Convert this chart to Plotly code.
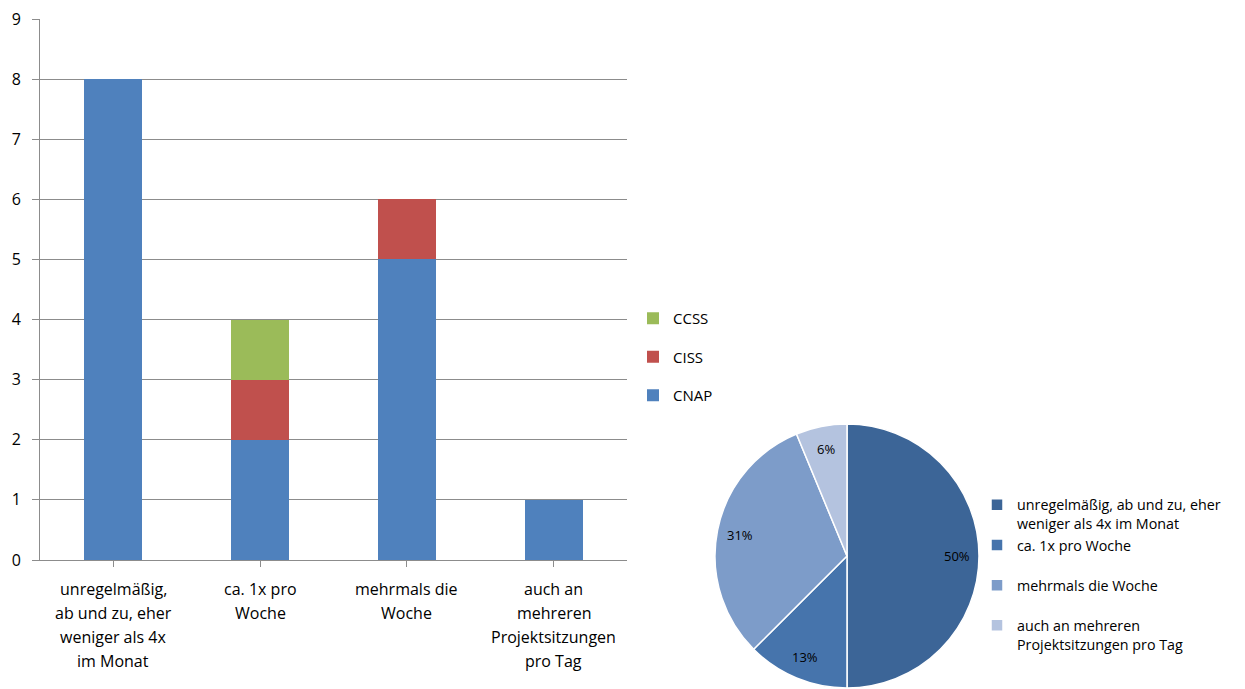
import math
import plotly.graph_objects as go

# Häufigkeit der Projektsitzungen, nach Gruppe gestapelt
categories = [
    "unregelmäßig,<br>ab und zu, eher<br>weniger als 4x<br>im Monat",
    "ca. 1x pro<br>Woche",
    "mehrmals die<br>Woche",
    "auch an<br>mehreren<br>Projektsitzungen<br>pro Tag",
]
cnap = [8, 2, 5, 1]
ciss = [0, 1, 1, 0]
ccss = [0, 1, 0, 0]

# Gesamtverteilung für das Kreisdiagramm
pie_labels = [
    "unregelmäßig, ab und zu, eher<br>weniger als 4x im Monat",
    "ca. 1x pro Woche<br> ",
    "mehrmals die Woche<br> ",
    "auch an mehreren<br>Projektsitzungen pro Tag",
]
pie_values = [8, 2, 5, 1]
pie_colors = ["#3C6597", "#4674AC", "#7D9CC9", "#B4C3DF"]

W, H = 1245, 689
FONT = "Open Sans"
GRAY = "#8C8C8C"

fig = go.Figure()

series = [("CNAP", cnap, "#4F81BD", 3), ("CISS", ciss, "#C0504D", 2), ("CCSS", ccss, "#9BBB59", 1)]
for name, vals, color, rank in series:
    fig.add_trace(go.Bar(
        x=list(range(len(categories))), y=vals, name=name,
        marker=dict(color=color, line=dict(width=0)),
        legend="legend", legendgroup=name, legendrank=rank,
        hoverinfo="y+name",
    ))

# Kreisdiagramm: Mittelpunkt und Radius in Pixeln
cx, cy, rad = 847, 556, 132
fig.add_trace(go.Pie(
    labels=pie_labels, values=pie_values, sort=False,
    direction="clockwise", rotation=0,
    marker=dict(colors=pie_colors, line=dict(color="white", width=1.5)),
    textinfo="none",
    domain=dict(x=[(cx - rad) / W, (cx + rad) / W], y=[1 - (cy + rad) / H, 1 - (cy - rad) / H]),
    legend="legend2", showlegend=True,
))

annotations = []

# Prozentbeschriftungen innerhalb der Segmente
total = sum(pie_values)
start = 0.0
for v in pie_values:
    frac = v / total
    mid = (start + frac / 2) * 2 * math.pi
    start += frac
    px = cx + 0.83 * rad * math.sin(mid)
    py = cy - 0.83 * rad * math.cos(mid)
    annotations.append(dict(
        x=px / W, y=1 - py / H, xref="paper", yref="paper",
        xanchor="center", yanchor="middle",
        text=f"{round(frac * 100 + 1e-9)}%", showarrow=False,
        font=dict(family=FONT, size=13, color="#000000"),
    ))

# Kategorienbeschriftungen unter der x-Achse, Zeile für Zeile
for i, cat in enumerate(categories):
    for j, line in enumerate(cat.split("<br>")):
        annotations.append(dict(
            x=i, xref="x", y=1 - (589 + 24 * j) / H, yref="paper",
            xanchor="center", yanchor="middle",
            text=line, showarrow=False,
            font=dict(family=FONT, size=16, color="#000000"),
        ))

fig.update_layout(
    width=W, height=H,
    margin=dict(l=0, r=0, t=0, b=0, autoexpand=False),
    paper_bgcolor="white", plot_bgcolor="white",
    font=dict(family=FONT, size=15, color="#000000"),
    barmode="stack", bargap=0.605,
    xaxis=dict(
        domain=[40 / W, 627 / W],
        tickmode="array", tickvals=list(range(len(categories))),
        ticktext=[""] * len(categories),
        range=[-0.5, len(categories) - 0.5],
        showline=True, linecolor=GRAY, linewidth=1,
        ticks="outside", tickson="boundaries", ticklen=6, tickcolor=GRAY,
        showgrid=False, zeroline=False, fixedrange=True, automargin=False,
    ),
    yaxis=dict(
        domain=[1 - 560 / H, 1 - 19 / H],
        range=[0, 9], dtick=1,
        showline=True, linecolor=GRAY, linewidth=1,
        ticks="outside", ticklen=7, tickcolor=GRAY, ticklabelstandoff=8,
        showgrid=True, gridcolor=GRAY, gridwidth=1,
        zeroline=False, fixedrange=True, automargin=False,
        tickfont=dict(size=16),
    ),
    legend=dict(
        x=633 / W, y=1 - 302 / H, xanchor="left", yanchor="top",
        traceorder="grouped", tracegroupgap=16,
        font=dict(size=15), bgcolor="rgba(0,0,0,0)",
        itemwidth=30,
    ),
    legend2=dict(
        x=977 / W, y=1 - 489 / H, xanchor="left", yanchor="top",
        valign="top", font=dict(size=14.3), bgcolor="rgba(0,0,0,0)",
        itemwidth=30,
    ),
    annotations=annotations,
    showlegend=True,
)

fig.write_html("out.html")
